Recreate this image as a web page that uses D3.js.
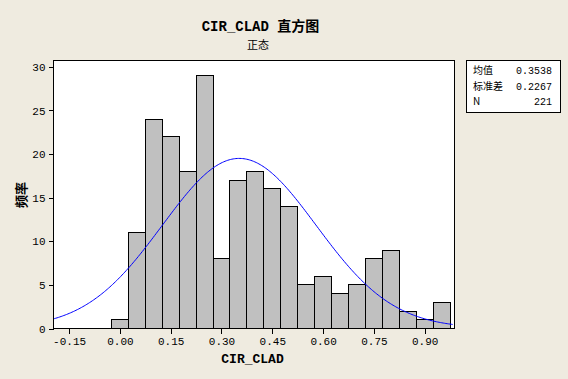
<!DOCTYPE html>
<html><head><meta charset="utf-8">
<script src="https://cdn.jsdelivr.net/npm/d3@7"></script>
<style>
html,body{margin:0;padding:0;background:#EFEBE0;}
svg{display:block;}
</style></head>
<body>
<svg id="c" width="568" height="379"></svg>
<script>
// ---- data ----
const binCenters = [0.00,0.05,0.10,0.15,0.20,0.25,0.30,0.35,0.40,0.45,0.50,0.55,0.60,0.65,0.70,0.75,0.80,0.85,0.90,0.95];
const counts     = [1,11,24,22,18,29,8,17,18,16,14,5,6,4,5,8,9,2,1,3];
const binWidth = 0.05;
const xTicks = [-0.15,0.00,0.15,0.30,0.45,0.60,0.75,0.90];
const yTicks = [0,5,10,15,20,25,30];
const statLabels = ["均值","标准差","N"];
const statValues = ["0.3538","0.2267","221"];
const mean = 0.3538, sd = 0.2267, n = 221;

const svg = d3.select("#c");
const L = 53, R = 454, T = 60, B = 328;
const mono = "'Liberation Mono','DejaVu Sans Mono',monospace";
const cjk = "'Noto Sans CJK SC','Noto Sans',sans-serif";

const x = d3.scaleLinear().domain([-0.196, 0.988]).range([L, R]);
const y = d3.scaleLinear().domain([0, 30.73]).range([B, T]);

// plot area
svg.append("rect").attr("x", L+0.5).attr("y", T+0.5).attr("width", R-L).attr("height", B-T)
  .attr("fill", "#fff").attr("stroke", "none");

svg.append("clipPath").attr("id","pc").append("rect")
  .attr("x", L).attr("y", T).attr("width", R-L+1).attr("height", B-T+1);

// bars
svg.append("g").selectAll("rect").data(binCenters).join("rect")
  .attr("x", d => Math.round(x(d - binWidth/2)) + 0.5)
  .attr("y", (d,i) => Math.round(y(counts[i])) + 0.5)
  .attr("width", d => Math.round(x(d + binWidth/2)) - Math.round(x(d - binWidth/2)))
  .attr("height", (d,i) => Math.round(y(0)) - Math.round(y(counts[i])))
  .attr("fill", "#C0C0C0").attr("stroke", "#000").attr("stroke-width", 1)
  .attr("shape-rendering", "crispEdges");

// fitted normal curve (from the stated mean, SD and N)
const pdf = v => n * binWidth / (sd * Math.sqrt(2*Math.PI)) * Math.exp(-0.5*((v-mean)/sd)**2);
const xs = d3.range(-0.196, 0.985, 0.004);
svg.append("path").datum(xs)
  .attr("clip-path","url(#pc)")
  .attr("d", d3.line().x(v => x(v)).y(v => y(pdf(v))))
  .attr("fill","none").attr("stroke","#0000FF").attr("stroke-width",1);

// plot border
svg.append("rect").attr("x", L+0.5).attr("y", T+0.5).attr("width", R-L).attr("height", B-T)
  .attr("fill", "none").attr("stroke", "#000").attr("shape-rendering","crispEdges");

// axes
const xAxis = d3.axisBottom(x).tickValues(xTicks).tickSize(5).tickPadding(4)
  .tickFormat(d => (d < 0 ? "-" : "") + Math.abs(d).toFixed(2));
const gx = svg.append("g").attr("transform", `translate(0.5,${B+0.5})`).call(xAxis);
gx.select(".domain").remove();
gx.selectAll("line").attr("stroke","#000").attr("shape-rendering","crispEdges");
gx.selectAll("text").attr("font-family", mono).attr("font-size", 11).attr("fill","#000");

const yAxis = d3.axisLeft(y).tickValues(yTicks).tickSize(5).tickPadding(3);
const gy = svg.append("g").attr("transform", `translate(${L+0.5},0.5)`).call(yAxis);
gy.select(".domain").remove();
gy.selectAll("line").attr("stroke","#000").attr("shape-rendering","crispEdges");
gy.selectAll("text").attr("font-family", mono).attr("font-size", 11).attr("fill","#000");

// titles
const title = svg.append("text").attr("x", 260.5).attr("y", 31).attr("text-anchor","middle")
  .attr("font-weight","bold").attr("font-size", 14).attr("fill","#000");
title.append("tspan").attr("font-family", mono).text("CIR_CLAD ");
title.append("tspan").attr("font-family", cjk).text("直方图");
svg.append("text").attr("x", 258).attr("y", 49).attr("text-anchor","middle")
  .attr("font-family", cjk).attr("font-size", 11).attr("fill","#000").text("正态");

svg.append("text").attr("x", 252.5).attr("y", 363).attr("text-anchor","middle")
  .attr("font-family", mono).attr("font-weight","bold").attr("font-size", 13).attr("fill","#000")
  .text("CIR_CLAD");

svg.append("text").attr("transform","translate(25.5,195) rotate(-90)").attr("text-anchor","middle")
  .attr("font-family", cjk).attr("font-weight","bold").attr("font-size", 13).attr("fill","#000")
  .text("频率");

// stats legend
const lg = svg.append("g");
lg.append("rect").attr("x", 466.5).attr("y", 60.5).attr("width", 94).attr("height", 52)
  .attr("fill","#fff").attr("stroke","#000").attr("shape-rendering","crispEdges");
const rowY = [74, 90, 105];
statLabels.forEach((s,i) => {
  lg.append("text").attr("x", 473).attr("y", rowY[i])
    .attr("font-family", cjk).attr("font-size", 10).attr("fill","#000").text(s);
  lg.append("text").attr("x", 552).attr("y", rowY[i]).attr("text-anchor","end")
    .attr("font-family", mono).attr("font-size", 10).attr("fill","#000").text(statValues[i]);
});
</script>
</body></html>
